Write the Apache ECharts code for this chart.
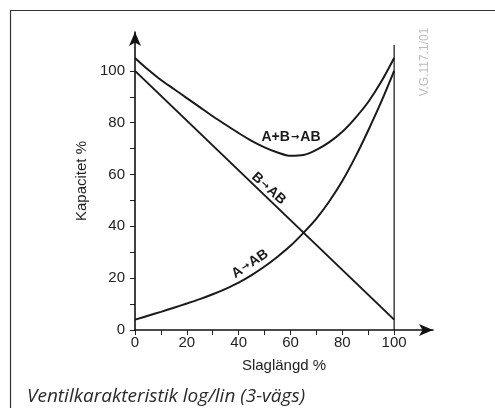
<!DOCTYPE html>
<html>
<head>
<meta charset="utf-8">
<script src="https://cdn.jsdelivr.net/npm/echarts@6/dist/echarts.min.js"></script>
<style>
html,body{margin:0;padding:0;background:#fff;}
#c{width:495px;height:408px;}
</style>
</head>
<body>
<div id="c"></div>
<script>
// Data
const strokeX = [0, 5, 10, 15, 20, 25, 30, 35, 40, 45, 50, 55, 60, 65, 70, 75, 80, 85, 90, 95, 100];
const seriesAB_sum = [105, 100.5, 96.5, 93, 89.5, 86, 82.5, 79.2, 76, 73, 70.5, 68.5, 67.2, 67.5, 69.5, 72.5, 76.5, 81.8, 88, 95.8, 105]; // A+B→AB
const seriesA = [4, 5.5, 7, 8.6, 10.2, 11.9, 13.8, 15.9, 18.3, 21.2, 24.5, 28.3, 32.5, 37.5, 43, 49.7, 57.5, 66.7, 77, 88, 100];           // A→AB
const seriesB = [100, 4];        // B→AB (linear)
const seriesBX = [0, 100];
const yTickValues = [0, 10, 20, 30, 40, 50, 60, 70, 80, 90, 100];
const yLabelValues = [0, 20, 40, 60, 80, 100];
const xTickValues = [0, 10, 20, 30, 40, 50, 60, 70, 80, 90, 100];
const xLabelValues = [0, 20, 40, 60, 80, 100];
const endLineX = [100, 100];
const endLineY = [0, 110];
const curveLabels = [
  {pre: 'A+B', post: 'AB', x: 60.2, y: 74.5, rot: 0},
  {pre: 'B', post: 'AB', x: 51.6, y: 54.6, rot: -42},
  {pre: 'A', post: 'AB', x: 44.4, y: 25.5, rot: 34}
];

const pairs = (xs, ys) => xs.map((x, i) => [x, ys[i]]);
const chart = echarts.init(document.getElementById('c'), null, {renderer: 'canvas'});
const lineStyle = {color: '#1a1a1a', width: 2};
const axisCommon = (name, tickVals, labelVals, isY) => ({
  type: 'value', min: 0, max: 115,
  name: name,
  nameLocation: 'middle',
  nameGap: isY ? 33 : 28,
  nameTextStyle: {fontFamily: 'Liberation Sans', fontSize: 15, color: '#222'},
  splitLine: {show: false},
  axisLine: {show: true, symbol: ['none', 'arrow'], symbolSize: [9, 14], symbolOffset: [0, 0],
             lineStyle: {color: '#111', width: 1.6}},
  axisTick: {show: true, length: 5, customValues: tickVals, lineStyle: {color: '#222', width: 1}},
  axisLabel: {customValues: labelVals, fontFamily: 'Liberation Sans', fontSize: 15, color: '#222', margin: isY ? 10 : 5}
});

chart.setOption({
  animation: false,
  grid: {left: 135, right: 62, top: 32, bottom: 78},
  xAxis: axisCommon('Slaglängd %', xTickValues, xLabelValues, false),
  yAxis: axisCommon('Kapacitet %', yTickValues, yLabelValues, true),
  series: [
    {type: 'line', data: pairs(strokeX, seriesAB_sum), smooth: 0.3, showSymbol: false, lineStyle: lineStyle},
    {type: 'line', data: pairs(strokeX, seriesA), smooth: 0.3, showSymbol: false, lineStyle: lineStyle},
    {type: 'line', data: pairs(seriesBX, seriesB), showSymbol: false, lineStyle: lineStyle},
    {type: 'line', data: pairs(endLineX, endLineY), showSymbol: false, lineStyle: {color: '#111', width: 1.2}}
  ]
});

const g = [
  {type: 'rect', shape: {x: 10.5, y: 10.5, width: 500, height: 420}, style: {fill: 'none', stroke: '#333', lineWidth: 1.2}, z: 0},
  {type: 'text', x: 425, y: 62, rotation: Math.PI / 2, style: {text: 'V.G.117.1/01', fill: '#bbb', font: '12px Liberation Sans', textAlign: 'center', textVerticalAlign: 'middle'}},
  {type: 'text', x: 27, y: 397, style: {text: 'Ventilkarakteristik log/lin (3-vägs)', fill: '#2a2a2a', font: 'italic 19px "Open Sans"', textAlign: 'left', textVerticalAlign: 'middle'}}
];
curveLabels.forEach(l => {
  const p = chart.convertToPixel({gridIndex: 0}, [l.x, l.y]);
  g.push({type: 'text', x: p[0], y: p[1], rotation: l.rot * Math.PI / 180,
    style: {
      text: '{t|' + l.pre + '}{a|→}{t|' + l.post + '}',
      textAlign: 'center', textVerticalAlign: 'middle',
      rich: {
        t: {fill: '#1a1a1a', font: 'bold 14px "Liberation Sans"'},
        a: {fill: '#1a1a1a', font: 'bold 10px "DejaVu Sans"', padding: [0, 1, 0, 1]}
      }
    }, z: 10});
});
chart.setOption({graphic: g});
</script>
</body>
</html>
